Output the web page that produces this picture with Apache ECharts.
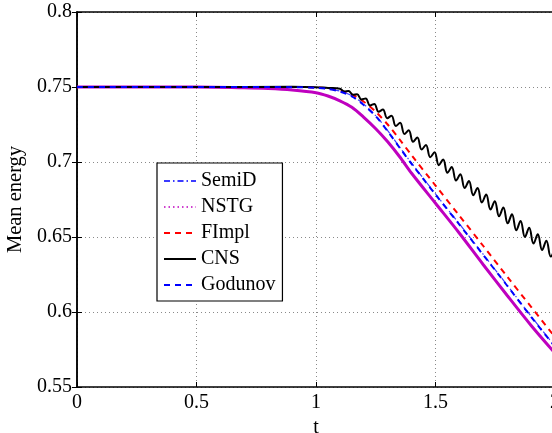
<!DOCTYPE html>
<html>
<head>
<meta charset="utf-8">
<script src="https://cdn.jsdelivr.net/npm/echarts@6/dist/echarts.min.js"></script>
<style>
  html, body { margin: 0; padding: 0; background: #fff; }
  #chart { width: 552px; height: 433px; }
</style>
</head>
<body>
<div id="chart"></div>
<script>
// Mean energy versus time for five schemes
const seriesNames = ['SemiD', 'NSTG', 'FImpl', 'CNS', 'Godunov'];
const xTicks = [0, 0.5, 1, 1.5, 2];
const yTicks = [0.55, 0.6, 0.65, 0.7, 0.75, 0.8];

const tSmooth = [0, 0.5, 0.7, 0.8, 0.9, 1.0, 1.05, 1.1, 1.15, 1.2, 1.25, 1.3, 1.35, 1.4, 1.5, 1.6, 1.7, 1.8, 1.9, 2.0];
const semiD   = [0.75, 0.75, 0.75, 0.75, 0.7499, 0.7496, 0.7489, 0.7473, 0.7442, 0.7385, 0.7309, 0.7209, 0.7099, 0.6992, 0.6787, 0.6587, 0.6384, 0.6179, 0.5972, 0.5772];
const nstg    = [0.75, 0.75, 0.7495, 0.749, 0.748, 0.7462, 0.744, 0.7408, 0.7365, 0.7298, 0.7222, 0.7135, 0.7035, 0.6925, 0.6725, 0.6525, 0.6315, 0.611, 0.591, 0.5725];
const fImpl   = [0.75, 0.75, 0.75, 0.75, 0.75, 0.7497, 0.749, 0.7477, 0.745, 0.7402, 0.7335, 0.725, 0.715, 0.7045, 0.6843, 0.6642, 0.644, 0.6236, 0.6034, 0.5833];
const godunov = [0.75, 0.75, 0.75, 0.75, 0.7499, 0.7495, 0.7487, 0.747, 0.7438, 0.738, 0.7305, 0.7205, 0.7095, 0.6988, 0.6783, 0.6583, 0.638, 0.6175, 0.5968, 0.5768];

// CNS oscillates: values at successive crests and troughs
const tCns = [0, 0.5, 0.9, 1.0, 1.05,
  1.100, 1.118, 1.136, 1.154, 1.172, 1.190, 1.208, 1.226, 1.244, 1.262,
  1.280, 1.298, 1.316, 1.334, 1.352, 1.370, 1.388, 1.406, 1.424, 1.442,
  1.460, 1.478, 1.496, 1.514, 1.532, 1.550, 1.568, 1.586, 1.604, 1.622,
  1.640, 1.658, 1.676, 1.694, 1.712, 1.730, 1.748, 1.766, 1.784, 1.802,
  1.820, 1.838, 1.856, 1.874, 1.892, 1.910, 1.928, 1.946, 1.964, 1.982, 2.000];
const cns = [0.75, 0.75, 0.7501, 0.7499, 0.7494,
  0.7489, 0.7470, 0.7474, 0.7449, 0.7452, 0.7417, 0.7424, 0.7377, 0.7387, 0.7335,
  0.7350, 0.7292, 0.7309, 0.7240, 0.7261, 0.7187, 0.7212, 0.7135, 0.7163, 0.7083,
  0.7114, 0.7032, 0.7065, 0.6979, 0.7016, 0.6928, 0.6967, 0.6876, 0.6919, 0.6826,
  0.6873, 0.6779, 0.6827, 0.6730, 0.6783, 0.6683, 0.6739, 0.6638, 0.6696, 0.6591,
  0.6651, 0.6545, 0.6607, 0.6500, 0.6562, 0.6456, 0.6518, 0.6413, 0.6475, 0.6370, 0.6432];

const pairs = (xs, ys) => xs.map((x, i) => [x, ys[i]]);

const font = 'Liberation Serif, Times New Roman, serif';
const gridLine = { show: true, lineStyle: { color: '#8a8a8a', type: [1, 3], width: 1 } };
const frame = { show: true, lineStyle: { color: '#000', width: 1.5 } };
const inTick = { show: true, inside: true, length: 5, lineStyle: { color: '#000', width: 1 } };

const chart = echarts.init(document.getElementById('chart'), null, { renderer: 'canvas' });
chart.setOption({
  animation: false,
  backgroundColor: '#fff',
  grid: { left: 77, top: 12, right: -3, bottom: 46, containLabel: false, outerBoundsMode: 'none' },
  xAxis: [{
    type: 'value', min: xTicks[0], max: xTicks[xTicks.length - 1], interval: 0.5,
    name: 't', nameLocation: 'middle', nameGap: 20,
    nameTextStyle: { fontFamily: font, fontSize: 20, color: '#000' },
    axisLine: frame, axisTick: inTick, splitLine: gridLine,
    axisLabel: { fontFamily: font, fontSize: 20, color: '#000', margin: 6 }
  }, {
    type: 'value', position: 'top', min: xTicks[0], max: xTicks[xTicks.length - 1], interval: 0.5,
    axisLine: frame, axisTick: inTick, splitLine: { show: false }, axisLabel: { show: false }
  }],
  yAxis: [{
    type: 'value', min: yTicks[0], max: yTicks[yTicks.length - 1], interval: 0.05,
    name: 'Mean energy', nameLocation: 'middle', nameGap: 48, nameRotate: 90,
    nameTextStyle: { fontFamily: font, fontSize: 20.5, color: '#000' },
    axisLine: frame, axisTick: inTick, splitLine: gridLine,
    axisLabel: { fontFamily: font, fontSize: 20, color: '#000', margin: 5 }
  }, {
    type: 'value', position: 'right', min: yTicks[0], max: yTicks[yTicks.length - 1], interval: 0.05,
    axisLine: frame, axisTick: inTick, splitLine: { show: false }, axisLabel: { show: false }
  }],
  legend: {
    orient: 'vertical', left: 157, top: 163,
    backgroundColor: '#fff', borderColor: '#000', borderWidth: 1.2, borderRadius: 0,
    padding: [8, 7, 6, 6], itemWidth: 32, itemHeight: 14, itemGap: 6,
    itemStyle: { opacity: 0 },
    textStyle: { fontFamily: font, fontSize: 20, color: '#000', lineHeight: 20 },
    data: [
      { name: 'SemiD' },
      { name: 'NSTG', lineStyle: { type: [1.5, 3], width: 1.5 } },
      { name: 'FImpl' },
      { name: 'CNS' },
      { name: 'Godunov' }
    ]
  },
  series: [
    {
      name: seriesNames[0], type: 'line', data: pairs(tSmooth, semiD), smooth: 0.3,
      symbol: 'none', color: '#3b3bff', z: 3,
      lineStyle: { color: '#3b3bff', width: 1.2, type: [6, 3, 1.5, 3] }
    },
    {
      name: seriesNames[1], type: 'line', data: pairs(tSmooth, nstg), smooth: 0.3,
      symbol: 'none', color: '#bf00bf', z: 2,
      lineStyle: { color: '#bf00bf', width: 3, type: 'solid' }
    },
    {
      name: seriesNames[2], type: 'line', data: pairs(tSmooth, fImpl), smooth: 0.3,
      symbol: 'none', color: '#ff0000', z: 4,
      lineStyle: { color: '#ff0000', width: 2, type: [6, 5] }
    },
    {
      name: seriesNames[3], type: 'line', data: pairs(tCns, cns), smooth: 0.4,
      symbol: 'none', color: '#000', z: 5,
      lineStyle: { color: '#000', width: 2, type: 'solid' }
    },
    {
      name: seriesNames[4], type: 'line', data: pairs(tSmooth, godunov), smooth: 0.3,
      symbol: 'none', color: '#0000ff', z: 6,
      lineStyle: { color: '#0000ff', width: 2, type: [6, 5] }
    }
  ]
});
</script>
</body>
</html>
